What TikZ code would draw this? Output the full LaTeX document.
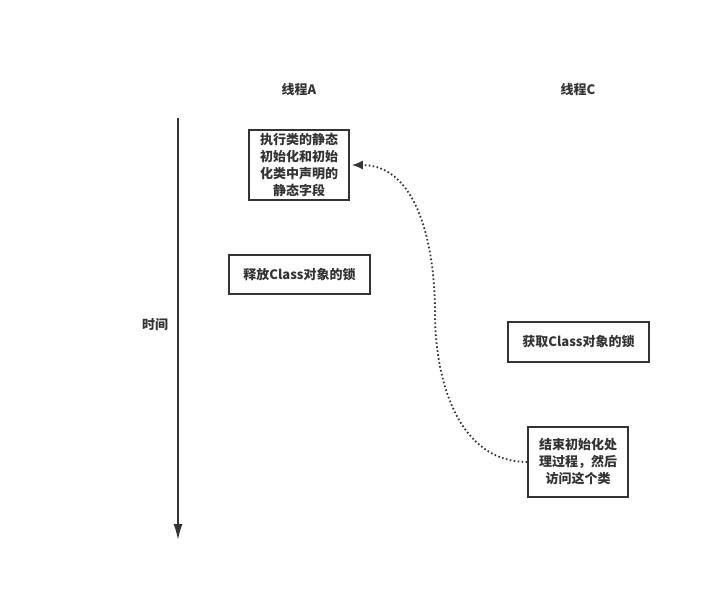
\documentclass[tikz,border=0pt]{standalone}
\usepackage{fontspec}
\usepackage{tikz}
\usetikzlibrary{arrows.meta}
\newfontfamily\cjk{Noto Sans CJK SC}
\definecolor{ink}{HTML}{333333}

\begin{document}
\begin{tikzpicture}[x=1pt, y=-1pt, every node/.style={font=\cjk\bfseries\fontsize{13}{17}\selectfont, text=ink, align=center, inner sep=0pt}, box/.style={draw=ink, line width=1.6pt, minimum width=#1}, every path/.style={draw=ink}]
				\useasboundingbox[draw=none] (0,0) rectangle (720,599);
				
				\node (ta) at (299, 90){线程A};
				\node (tc) at (578, 90){线程C};
				\node (t) at (155, 325){时间};
				
				\coordinate (s) at (178, 118);
				\coordinate (e) at (178, 540);
				\path[line width=1.6pt, -{Latex[length=16pt, width=9pt]}] (s) -- (e);
				
				\node[box=100pt, minimum height=70pt] (a) at (299, 165){执行类的静态\\初始化和初始\\化类中声明的\\静态字段};
				\node[box=141pt, minimum height=39pt] (b) at (299.5, 274.5){释放Class对象的锁};
				\node[box=141pt, minimum height=40pt] (c) at (578.5, 342){获取Class对象的锁};
				\node[box=100pt, minimum height=70pt] (d) at (578, 462){结束初始化处\\理过程，然后\\访问这个类};
				
				\coordinate (m) at (435, 313);
				\path[line width=1.8pt, dash pattern=on 1.6pt off 2.4pt, -{Latex[length=11pt, width=9pt]}] (d.west) to[out=180, in=-90] (m) to[out=90, in=0] ([xshift=2pt]a.east);
				\end{tikzpicture}
\end{document}
